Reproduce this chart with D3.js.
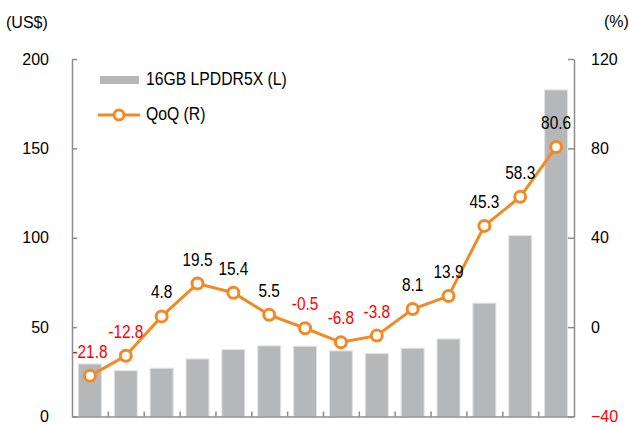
<!DOCTYPE html>
<html>
<head>
<meta charset="utf-8">
<script src="https://cdn.jsdelivr.net/npm/d3@7"></script>
<style>
  body { margin: 0; background: #fff; }
  svg text { font-family: "Liberation Sans", Arial, sans-serif; }
</style>
</head>
<body>
<div id="chart"></div>
<script>
// chart data (no x labels are printed on the original)
const periods = ["P1", "P2", "P3", "P4", "P5", "P6", "P7", "P8", "P9", "P10", "P11", "P12", "P13", "P14"];
const price = [29.4, 25.6, 27.0, 32.2, 37.4, 39.5, 39.3, 36.7, 35.2, 38.2, 43.4, 63.4, 101.2, 182.7];
const qoq = [-21.8, -12.8, 4.8, 19.5, 15.4, 5.5, -0.5, -6.8, -3.8, 8.1, 13.9, 45.3, 58.3, 80.6];
const leftTicks = [0, 50, 100, 150, 200];
const rightTicks = [-40, 0, 40, 80, 120];

const width = 629, height = 428;
const margin = {left: 72, right: 55, top: 59, bottom: 11.5};
const orange = "#f28a24";
const barColor = "#b6b7b9";

let svg = d3.select("#chart")
    .append("svg")
    .attr("width", width)
    .attr("height", height);

let x = d3.scaleBand()
    .domain(periods)
    .range([margin.left, width - margin.right])
    .paddingInner(0.36)
    .paddingOuter(0.18);

// category boundaries for the bottom ticks
let xEdge = d3.scaleLinear()
    .domain([0, periods.length])
    .range([margin.left, width - margin.right]);

let yL = d3.scaleLinear()
    .domain([0, 200])
    .range([height - margin.bottom, margin.top]);

let yR = d3.scaleLinear()
    .domain([-40, 120])
    .range([height - margin.bottom, margin.top]);

// bars
svg.selectAll("rect.bar")
    .data(price)
    .enter()
    .append("rect")
    .attr("class", "bar")
    .attr("x", (d, i) => x(periods[i]))
    .attr("y", d => yL(d))
    .attr("width", x.bandwidth())
    .attr("height", d => yL(0) - yL(d))
    .attr("fill", barColor)
    .attr("stroke", "#e2e2e3")
    .attr("stroke-width", 1);

// axes
function styleAxis(g) {
    g.select(".domain").attr("stroke", "#8c8c8c").attr("stroke-width", 1.5);
    g.selectAll(".tick line").attr("stroke", "#8c8c8c").attr("stroke-width", 1.5);
    g.selectAll(".tick text")
        .attr("fill", "#000")
        .style("font-size", "16px")
        .style("font-family", "'Liberation Sans', Arial, sans-serif");
}

svg.append("g")
    .attr("transform", `translate(${margin.left}, 0)`)
    .call(d3.axisLeft(yL).tickValues(leftTicks).tickSize(-5).tickSizeOuter(0).tickPadding(23))
    .call(styleAxis);

let rightAxis = svg.append("g")
    .attr("transform", `translate(${width - margin.right}, 0)`)
    .call(d3.axisRight(yR).tickValues(rightTicks).tickSize(-6).tickSizeOuter(0).tickPadding(17))
    .call(styleAxis);
rightAxis.selectAll(".tick text")
    .attr("fill", d => d < 0 ? "#ff0000" : "#000");

svg.append("g")
    .attr("transform", `translate(0, ${yL(0)})`)
    .call(d3.axisBottom(xEdge).tickValues(d3.range(1, periods.length)).tickSize(-5).tickSizeOuter(0).tickFormat(""))
    .call(styleAxis);

// unit labels
svg.append("text")
    .attr("x", 6)
    .attr("y", 28)
    .style("font-size", "16px")
    .text("(US$)");

svg.append("text")
    .attr("x", 604)
    .attr("y", 27)
    .style("font-size", "16px")
    .text("(%)");

// QoQ line
let cx = (d, i) => x(periods[i]) + x.bandwidth() / 2;

let line = d3.line()
    .x((d, i) => cx(d, i))
    .y(d => yR(d));

svg.append("path")
    .datum(qoq)
    .attr("d", line)
    .attr("fill", "none")
    .attr("stroke", orange)
    .attr("stroke-width", 3);

svg.selectAll("circle.pt")
    .data(qoq)
    .enter()
    .append("circle")
    .attr("class", "pt")
    .attr("cx", cx)
    .attr("cy", d => yR(d))
    .attr("r", 5.5)
    .attr("fill", "#fff")
    .attr("stroke", orange)
    .attr("stroke-width", 3);

// data labels (squeezed horizontally, the original uses a narrow face)
svg.selectAll("text.lbl")
    .data(qoq)
    .enter()
    .append("text")
    .attr("class", "lbl")
    .attr("transform", (d, i) => `translate(${cx(d, i)}, ${yR(d) - 18}) scale(0.81, 1)`)
    .attr("text-anchor", "middle")
    .attr("fill", d => d < 0 ? "#ff0000" : "#000")
    .style("font-size", "19px")
    .text(d => d.toFixed(1));

// legend
let legend = svg.append("g");
legend.append("rect")
    .attr("x", 100)
    .attr("y", 76)
    .attr("width", 39)
    .attr("height", 8)
    .attr("fill", barColor);
legend.append("text")
    .attr("transform", "translate(146, 85) scale(0.9, 1)")
    .style("font-size", "17.5px")
    .text("16GB LPDDR5X (L)");

legend.append("line")
    .attr("x1", 98)
    .attr("x2", 140)
    .attr("y1", 115)
    .attr("y2", 115)
    .attr("stroke", orange)
    .attr("stroke-width", 3);
legend.append("circle")
    .attr("cx", 119)
    .attr("cy", 115)
    .attr("r", 5)
    .attr("fill", "#fff")
    .attr("stroke", orange)
    .attr("stroke-width", 3);
legend.append("text")
    .attr("transform", "translate(146, 120) scale(0.9, 1)")
    .style("font-size", "17.5px")
    .text("QoQ (R)");
</script>
</body>
</html>
